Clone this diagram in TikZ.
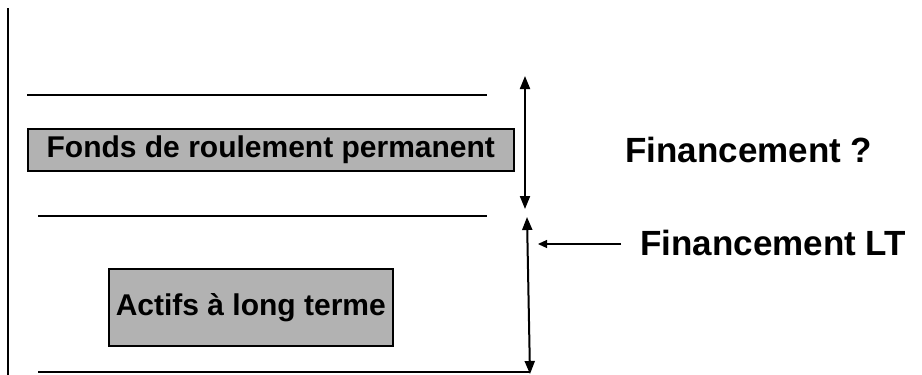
\documentclass[tikz,border=0pt]{standalone}
\usepackage{fontspec}
\setmainfont{Liberation Sans}
\usetikzlibrary{arrows.meta}
\begin{document}
\begin{tikzpicture}[x=1pt,y=-1pt,
  rule/.style={line width=2.8pt},
  tipbig/.tip={Triangle[length=13pt,width=10pt]},
  dimarrow/.style={line width=2pt,tipbig-tipbig},
  ptr/.style={line width=1.2pt,-{Triangle[length=9pt,width=8pt]}},
  grbox/.style={draw=black,line width=1.6pt,fill=black!30,inner sep=0pt,anchor=north west},
  lbl/.style={font=\fontsize{35}{40}\selectfont\bfseries,anchor=base west,inner sep=0pt},
  boxtxt/.style={font=\fontsize{30}{34}\selectfont\bfseries,inner sep=0pt}]
\useasboundingbox (0,0) rectangle (922,375);
% frame lines
\coordinate (vt) at (8,8);
\coordinate (vb) at (8,375);
\draw[rule] (vt) -- (vb);
\coordinate (l1a) at (27,95);  \coordinate (l1b) at (487,95);
\coordinate (l2a) at (38,216); \coordinate (l2b) at (487,216);
\coordinate (l3a) at (38,372); \coordinate (l3b) at (530,372);
\draw[rule] (l1a) -- (l1b);
\draw[rule] (l2a) -- (l2b);
\draw[line width=2.2pt] (l3a) -- (l3b);
% boxes
\node[grbox,minimum width=486pt,minimum height=42pt] (b1) at (27,128) {};
\node[boxtxt] (t1) at (b1.center) {Fonds de roulement permanent};
\node[grbox,minimum width=284pt,minimum height=77pt] (b2) at (108,268) {};
\node[boxtxt] (t2) at (b2.center) {Actifs à long terme};
% arrows
\coordinate (a1t) at (525,76);
\coordinate (a1b) at (525,209);
\draw[dimarrow] (a1t) -- (a1b);
\coordinate (a2t) at (527,217);
\coordinate (a2b) at (530,374);
\draw[dimarrow] (a2t) -- (a2b);
% labels
\node[lbl] (f1) at (625,162) {Financement ?};
\node[lbl] (f2) at (640,255) {Financement LT};
\coordinate (p1) at (621,244);
\coordinate (p2) at (538,244);
\draw[ptr] (p1) -- (p2);
\end{tikzpicture}
\end{document}
